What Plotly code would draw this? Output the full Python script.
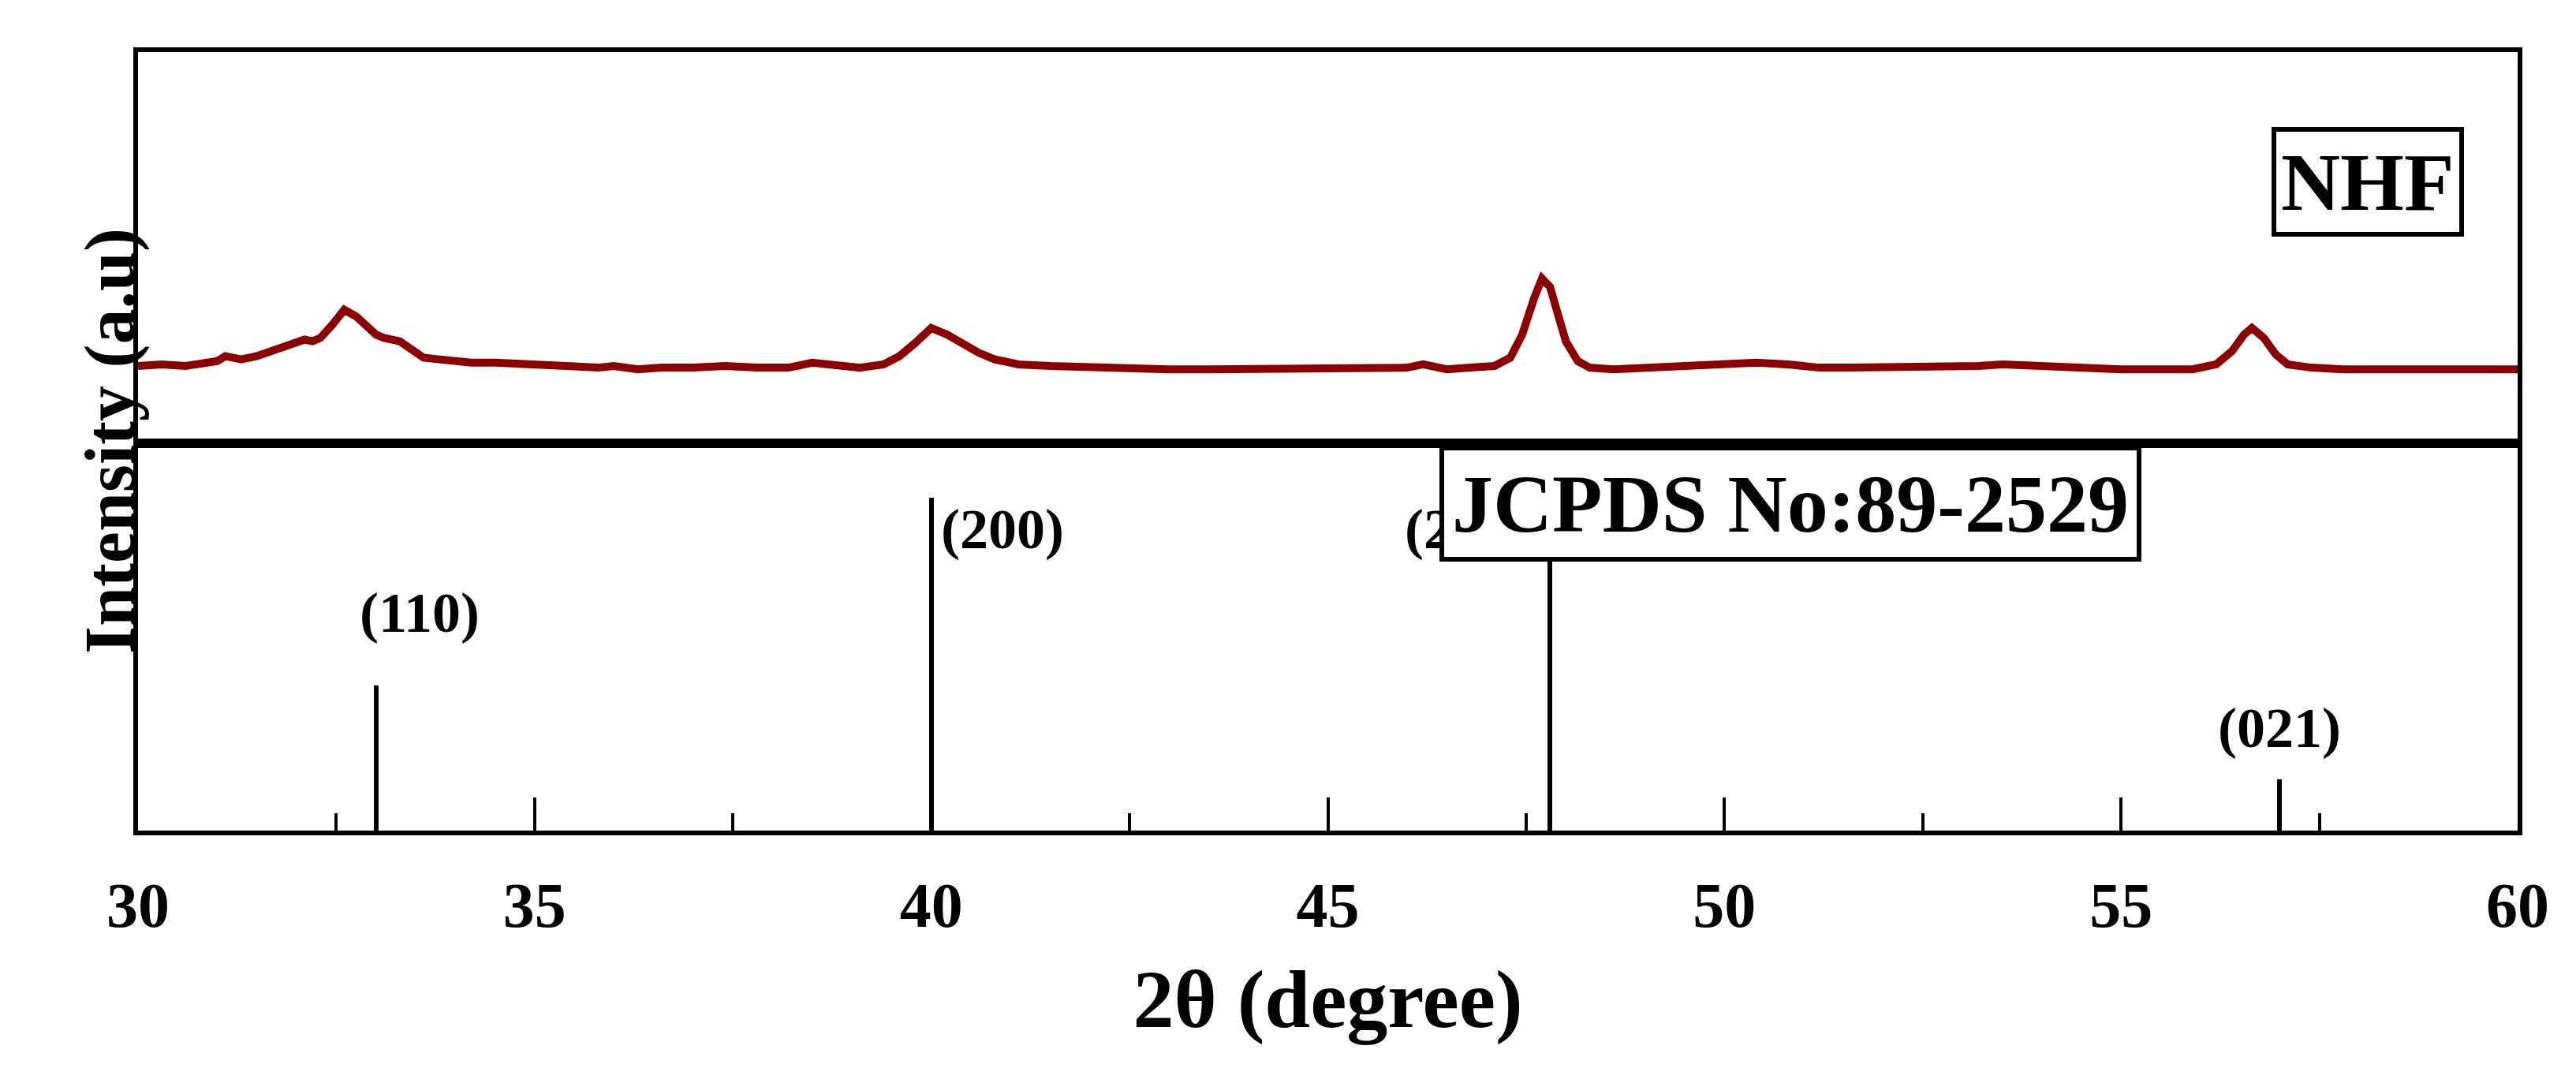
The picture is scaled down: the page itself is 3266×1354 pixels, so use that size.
import plotly.graph_objects as go
from plotly.subplots import make_subplots

two_theta = [30.0, 30.3, 30.6, 30.8, 31.0, 31.1, 31.2, 31.3, 31.5, 31.7, 32.0, 32.1, 32.2, 32.3, 32.45, 32.6, 32.75, 32.9, 33.0, 33.1, 33.2, 33.3, 33.45, 33.6, 33.8, 34.0, 34.2, 34.5, 34.8, 35.0, 35.4, 35.8, 36.0, 36.3, 36.6, 37.0, 37.4, 37.8, 38.2, 38.5, 38.8, 39.1, 39.4, 39.6, 39.8, 40.0, 40.2, 40.4, 40.6, 40.8, 41.1, 41.5, 42.0, 42.5, 43.0, 43.5, 44.0, 44.5, 45.0, 45.5, 46.0, 46.2, 46.5, 46.8, 47.1, 47.3, 47.45, 47.6, 47.7, 47.8, 47.9, 48.0, 48.15, 48.3, 48.6, 49.0, 49.5, 50.0, 50.4, 50.8, 51.2, 51.6, 52.0, 52.4, 52.8, 53.2, 53.5, 53.9, 54.3, 54.7, 55.0, 55.5, 55.9, 56.2, 56.4, 56.55, 56.65, 56.8, 56.95, 57.1, 57.4, 57.8, 58.3, 58.8, 59.3, 60.0]
intensity = [47, 48, 47, 48, 50, 53, 52, 51, 53, 56, 61, 63, 62, 64, 72, 81, 77, 70, 66, 64, 63, 62, 57, 52, 51, 50, 49, 49, 48, 48, 47, 46, 47, 45, 46, 46, 47, 46, 46, 49, 47, 46, 48, 53, 61, 70, 66, 60, 55, 51, 48, 47, 46, 46, 45, 45, 45, 46, 46, 46, 46, 48, 45, 46, 47, 52, 66, 88, 100, 95, 80, 62, 50, 46, 45, 46, 47, 48, 49, 48, 46, 46, 46, 47, 46, 47, 48, 47, 46, 45, 45, 45, 45, 48, 56, 66, 70, 64, 54, 48, 46, 45, 45, 45, 45, 45]

ref_pos = [33.0, 40.0, 47.8, 57.0]
ref_int = [88, 202, 213, 31]
ref_labels = ["(110)", "(200)", "(202)", "(021)"]
label_x = [33.55, 40.9, 46.75, 57.0]
label_y = [112, 163, 163, 42]

FONT = "Liberation Serif"
fig = make_subplots(rows=2, cols=1, shared_xaxes=True, vertical_spacing=0,
                    row_heights=[0.503, 0.497])
fig.add_trace(go.Scatter(x=two_theta, y=intensity, mode="lines",
                         line=dict(color="#8B0000", width=10), showlegend=False), row=1, col=1)
fig.add_trace(go.Bar(x=ref_pos, y=ref_int, width=0.06, marker=dict(color="black", line=dict(width=0)),
                     showlegend=False), row=2, col=1)

for t, xx, yy in zip(ref_labels, label_x, label_y):
    fig.add_annotation(x=xx, y=yy, text="<b>" + t + "</b>", showarrow=False, xref="x2", yref="y2",
                       font=dict(family=FONT, size=72, color="black"), yanchor="bottom")

fig.add_annotation(x=0.9775, y=0.904, xref="paper", yref="paper", text="<b>NHF</b>", showarrow=False,
                   font=dict(family=FONT, size=104, color="black"), bordercolor="black", borderwidth=6,
                   borderpad=6, bgcolor="white")
fig.add_annotation(x=0.842, y=0.42, xref="paper", yref="paper", text="<b>JCPDS No:89-2529</b>", showarrow=False,
                   font=dict(family=FONT, size=104, color="black"), bordercolor="black", borderwidth=6,
                   borderpad=10, bgcolor="white")
fig.add_annotation(x=-0.029, y=0.5, xref="paper", yref="paper", text="<b>Intensity (a.u)</b>", showarrow=False,
                   textangle=-90, font=dict(family=FONT, size=90, color="black"))

ax = dict(showline=True, linecolor="black", linewidth=6, mirror=True, showgrid=False, zeroline=False)
fig.update_xaxes(range=[30, 60], **ax)
fig.update_xaxes(showticklabels=False, ticks="", row=1, col=1)
fig.update_xaxes(tickmode="array", tickvals=[30, 35, 40, 45, 50, 55, 60],
                 ticktext=["<b>%d</b>" % v for v in [30, 35, 40, 45, 50, 55, 60]],
                 ticks="inside", ticklen=42, tickwidth=4, tickcolor="black", ticklabelstandoff=20,
                 minor=dict(tickvals=[32.5, 37.5, 42.5, 47.5, 52.5, 57.5], ticks="inside", ticklen=22,
                            tickwidth=4, tickcolor="black"),
                 tickfont=dict(family=FONT, size=80, color="black"),
                 title=dict(text="<b>2θ (degree)</b>", font=dict(family=FONT, size=104, color="black"), standoff=40),
                 row=2, col=1)
fig.update_yaxes(showticklabels=False, ticks="", **ax)
fig.update_yaxes(range=[0, 237], row=1, col=1)
fig.update_yaxes(range=[0, 235], row=2, col=1)
fig.update_layout(width=3266, height=1354, plot_bgcolor="white", paper_bgcolor="white",
                  margin=dict(l=167, r=82, t=58, b=309), bargap=0)
fig.write_html("out.html")
